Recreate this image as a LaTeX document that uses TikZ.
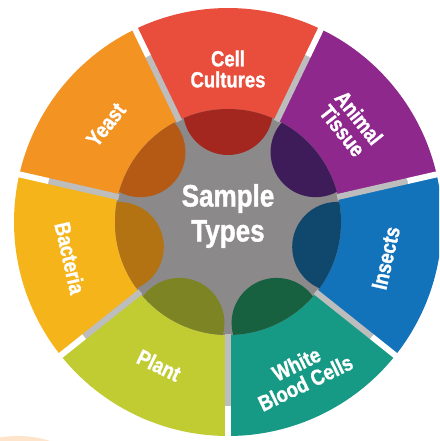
\documentclass[tikz,border=0pt]{standalone}
\usepackage{fontspec}
\newfontfamily\condfont[FakeStretch=0.84,FakeBold=1.2]{Liberation Sans}
\definecolor{cRed}{HTML}{E94E3D}
\definecolor{cPurple}{HTML}{8E288D}
\definecolor{cBlue}{HTML}{1272BA}
\definecolor{cTeal}{HTML}{169A85}
\definecolor{cPlant}{HTML}{C1CB32}
\definecolor{cBact}{HTML}{F6B41B}
\definecolor{cYeast}{HTML}{F39322}
\definecolor{dRed}{HTML}{A3271F}
\definecolor{dPurple}{HTML}{3E1C5A}
\definecolor{dBlue}{HTML}{10486D}
\definecolor{dTeal}{HTML}{176141}
\definecolor{dPlant}{HTML}{7D8423}
\definecolor{dBact}{HTML}{B37313}
\definecolor{dYeast}{HTML}{B45A14}
\definecolor{hubgray}{HTML}{8B898A}
\definecolor{lgray}{HTML}{BDBDBD}
\definecolor{peach}{HTML}{FDE4CB}
\tikzset{
  seglabel/.style={text=white, font=\condfont\bfseries\fontsize{22}{21}\selectfont, align=center, inner sep=0pt},
  hublabel/.style={text=white, font=\condfont\bfseries\fontsize{31}{35}\selectfont, align=center, inner sep=0pt},
  gapgray/.style={draw=lgray, line width=6pt},
  gapwhite/.style={draw=white, line width=6pt}
}
\begin{document}
\begin{tikzpicture}[x=1pt,y=1pt]
\clip (0,0) rectangle (439,441);
\fill[white] (0,0) rectangle (439,441);
\coordinate (C) at (228,219);
\fill[peach] (18,-21) ellipse [x radius=54, y radius=26];
\fill[lgray] (C) circle (184);
% segments
\foreach \a/\col in {90/cRed, 38.5714/cPurple, -12.857/cBlue, -64.286/cTeal, -115.714/cPlant, -167.143/cBact, 141.4286/cYeast}{
  \fill[\col] (C) -- ([shift={(\a-25.714:214)}]C) arc[start angle=\a-25.714, end angle=\a+25.714, radius=214] -- cycle;
}
% hub
\fill[hubgray] (C) circle (113);
\begin{scope}
  \clip (C) circle (113);
  \foreach \a/\col in {90/dRed, 38.5714/dPurple, -12.857/dBlue, -64.286/dTeal, -115.714/dPlant, -167.143/dBact, 141.4286/dYeast}{
    \fill[\col] ([shift={(\a:112)}]C) circle (45);
  }
\end{scope}
% gaps
\foreach \b in {115.714, 64.286, 12.857, -38.571, -90, -141.429, -192.857}{
  \draw[gapgray] ([shift={(\b:112)}]C) -- ([shift={(\b:184)}]C);
  \draw[gapwhite] ([shift={(\b:184)}]C) -- ([shift={(\b:225)}]C);
}
% labels
\node[hublabel] (hub) at (228,225) {Sample\\Types};
\node[seglabel] (cell) at ([shift={(90:153)}]C) {Cell\\Cultures};
\node[seglabel, rotate=-51.43] (animal) at ([shift={(38.57:157)}]C) {Animal\\Tissue};
\node[seglabel, rotate=77.14] (insects) at ([shift={(-12.86:162)}]C) {Insects};
\node[seglabel, rotate=25.71] (wbc) at ([shift={(-64.29:168)}]C) {White\\Blood Cells};
\node[seglabel, rotate=-25.71] (plant) at ([shift={(-115.71:159)}]C) {Plant};
\node[seglabel, rotate=-77.14] (bact) at ([shift={(-167.14:162)}]C) {Bacteria};
\node[seglabel, rotate=51.43] (yeast) at ([shift={(141.43:156)}]C) {Yeast};
\end{tikzpicture}
\end{document}
